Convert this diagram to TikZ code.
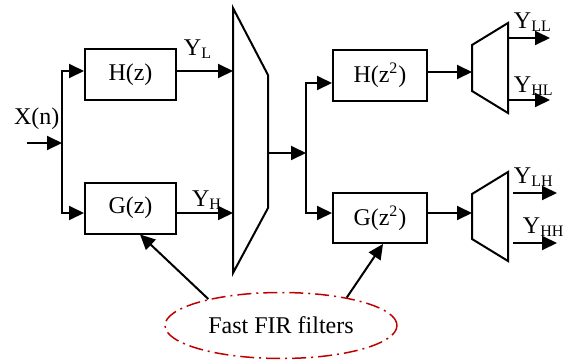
\documentclass[tikz,border=0pt]{standalone}
\usepackage{fontspec}
\setmainfont{Liberation Serif}
\usetikzlibrary{arrows.meta,shapes.geometric}
\definecolor{firred}{RGB}{192,0,0}
\begin{document}
\begin{tikzpicture}[x=0.5pt,y=-0.5pt,
  font=\fontsize{12}{14}\selectfont,
  line width=1pt,
  arr/.style={-{Triangle[length=7.5pt,width=7pt]}},
  box/.style={draw,minimum width=45.5pt,minimum height=25.5pt,inner sep=0pt},
  lab/.style={anchor=base west,inner sep=0pt},
  firell/.style={draw=firred,ellipse,line width=0.75pt,
    dash pattern=on 7pt off 2.5pt on 1pt off 2.5pt,
    minimum width=116pt,minimum height=33pt,inner sep=0pt}
]
\useasboundingbox (0,0) rectangle (564,360);

% filter boxes
\node[box] (H) at (130.5,74.5) {H(z)};
\node[box] (G) at (130.5,208) {G(z)};
\node[box,minimum width=47pt] (H2) at (380,75.5) {H(z\textsuperscript{2})};
\node[box,minimum width=47pt,minimum height=25pt] (G2) at (380,218) {G(z\textsuperscript{2})};

% input
\node[lab] (xn) at (13,124) {X(n)};
\coordinate (in) at (27,143);
\coordinate (s1) at (62,143);
\draw[arr] (in) -- (s1);
\draw[arr] (s1) |- ([yshift=1.75pt]H.west);
\draw[arr] (s1) |- ([yshift=-2.5pt]G.west);

% big trapezoid
\coordinate (T1) at (233,8);
\coordinate (T2) at (268,75);
\coordinate (T3) at (268,208);
\coordinate (T4) at (233,273);
\draw (T1) -- (T2) -- (T3) -- (T4) -- cycle;

\draw[arr] ([yshift=1.75pt]H.east) -- ([yshift=1.75pt]H.east -| T1);
\node[lab] (yl) at (183,55) {Y\textsubscript{L}};
\draw[arr] ([yshift=-2.5pt]G.east) -- ([yshift=-2.5pt]G.east -| T1);
\node[lab] (yh) at (191,206) {Y\textsubscript{H}};

% middle
\coordinate (m) at (268,153);
\coordinate (s2) at (306,153);
\draw[arr] (m) -- (s2);
\draw[arr] (s2) |- ([yshift=-3.75pt]H2.west);
\draw[arr] (s2) |- ([yshift=2.5pt]G2.west);

% small trapezoids
\coordinate (A1) at (472,45);
\coordinate (A2) at (508,23);
\coordinate (A3) at (508,113);
\coordinate (A4) at (472,91);
\draw (A1) -- (A2) -- (A3) -- (A4) -- cycle;
\coordinate (B1) at (472,194);
\coordinate (B2) at (508,172);
\coordinate (B3) at (508,261);
\coordinate (B4) at (472,239);
\draw (B1) -- (B2) -- (B3) -- (B4) -- cycle;

\draw[arr] ([yshift=1.75pt]H2.east) -- ([yshift=1.75pt]H2.east -| A1);
\draw[arr] ([yshift=2.5pt]G2.east) -- ([yshift=2.5pt]G2.east -| B1);

% outputs
\coordinate (o1s) at (508,38);  \coordinate (o1e) at (550,38);
\coordinate (o2s) at (508,100); \coordinate (o2e) at (550,100);
\coordinate (o3s) at (513,193); \coordinate (o3e) at (557,193);
\coordinate (o4s) at (513,243); \coordinate (o4e) at (557,243);
\draw[arr] (o1s) -- (o1e);
\draw[arr] (o2s) -- (o2e);
\draw[arr] (o3s) -- (o3e);
\draw[arr] (o4s) -- (o4e);
\node[lab] (yll) at (513,28) {Y\textsubscript{LL}};
\node[lab] (yhl) at (513,92) {Y\textsubscript{HL}};
\node[lab] (ylh) at (513,183) {Y\textsubscript{LH}};
\node[lab] (yhh) at (522,233) {Y\textsubscript{HH}};

% fast FIR ellipse
\node[firell] (fir) at (281,325.5) {Fast FIR filters};
\draw[arr] (fir.160) -- ([xshift=4.75pt]G.south);
\draw[arr] (fir.23) -- ([xshift=1.5pt]G2.south);
\end{tikzpicture}
\end{document}
